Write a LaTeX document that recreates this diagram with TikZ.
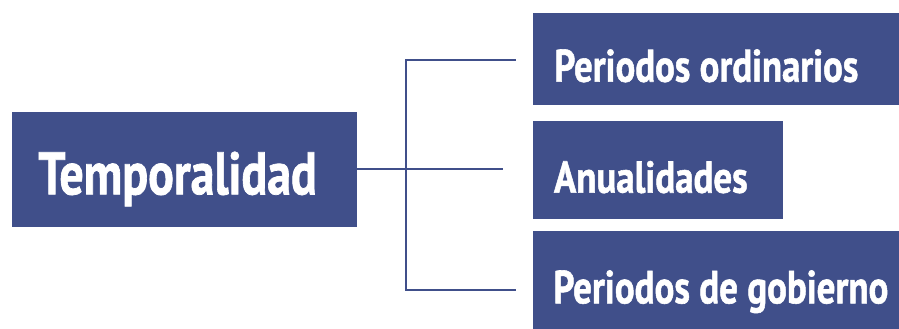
\documentclass[tikz,border=0pt]{standalone}
\usepackage{fontspec}
\setmainfont{PT Sans}[BoldFeatures={FakeBold=1.3}]
\definecolor{boxblue}{HTML}{404F8A}
\tikzset{
  bluebox/.style={fill=boxblue, draw=none, inner sep=0pt, outer sep=0pt, anchor=north west},
  boxtext/.style={text=white, inner sep=0pt, outer sep=0pt, anchor=base west, font=\bfseries},
  conn/.style={draw=boxblue, line width=1.7pt}
}
\begin{document}
\begin{tikzpicture}[x=1pt,y=1pt]
\useasboundingbox (0,0) rectangle (899,-329);
% boxes
\node[bluebox, minimum width=345pt, minimum height=115pt] (T) at (12,-111.7) {};
\node[bluebox, minimum width=370pt, minimum height=92pt] (PO) at (533,-13.3) {};
\node[bluebox, minimum width=250pt, minimum height=98.3pt] (AN) at (533,-120.7) {};
\node[bluebox, minimum width=370pt, minimum height=100pt] (PG) at (533,-231.3) {};
% texts
\node[boxtext] (tT) at (38.3,-194.3) {\resizebox{278.4pt}{42.6pt}{Temporalidad}};
\node[boxtext] (tPO) at (554.3,-81.7) {\resizebox{304pt}{32.4pt}{Periodos ordinarios}};
\node[boxtext] (tAN) at (554,-192.7) {\resizebox{193.7pt}{31.7pt}{Anualidades}};
\node[boxtext] (tPG) at (553.3,-303.3) {\resizebox{335pt}{33pt}{Periodos de gobierno}};
% connector coordinates
\coordinate (jtop) at (405.7,-60);
\coordinate (jmid) at (405.7,-169.3);
\coordinate (jbot) at (405.7,-290);
\coordinate (etop) at (515.7,-60);
\coordinate (emid) at (503,-169.3);
\coordinate (ebot) at (515.7,-290);
\draw[conn] (T.east |- jmid) -- (emid);
\draw[conn] (etop) -- (jtop) -- (jbot) -- (ebot);
\end{tikzpicture}
\end{document}
